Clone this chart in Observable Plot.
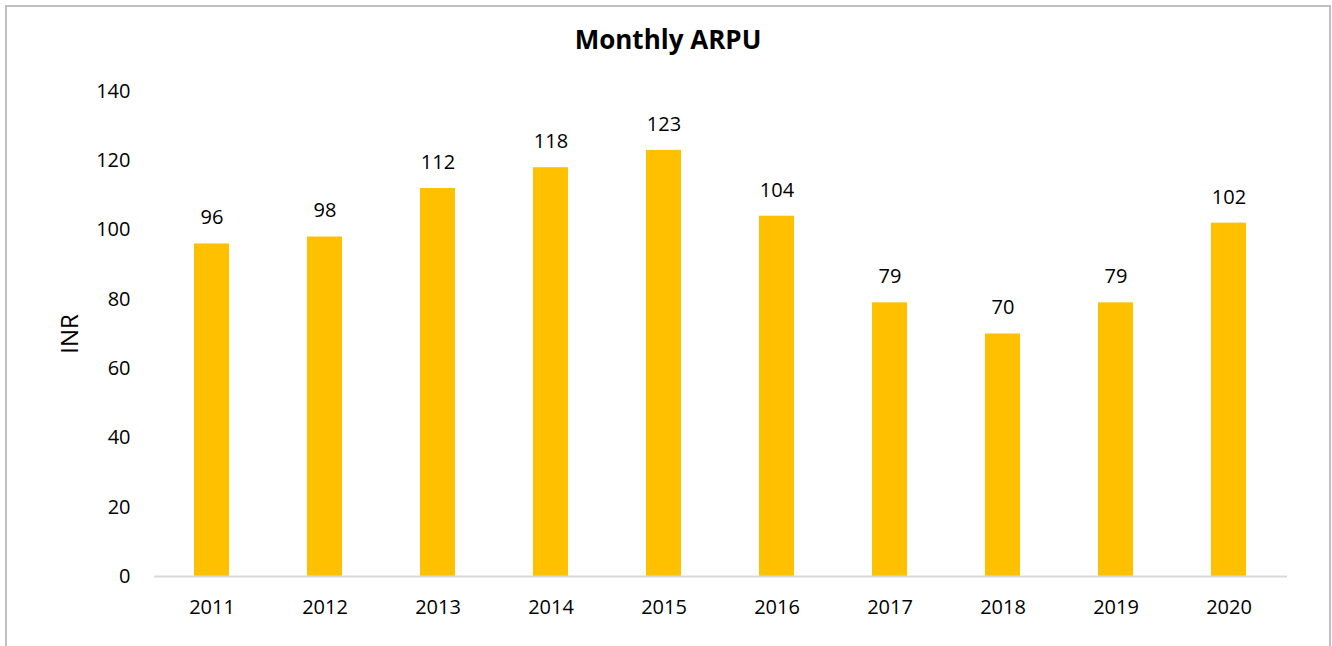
<!DOCTYPE html>
<html>
<head>
<meta charset="utf-8">
<script src="https://cdn.jsdelivr.net/npm/d3@7"></script>
<script src="https://cdn.jsdelivr.net/npm/@observablehq/plot@0.6"></script>
<style>
  html, body { margin: 0; padding: 0; background: #fff; width: 1332px; height: 646px; overflow: hidden; }
  #frame { position: absolute; left: 5px; top: 5px; width: 1326px; height: 700px; border: 2px solid #bfbfbf; box-sizing: border-box; }
  #title { position: absolute; left: 0; top: 21px; width: 1336px; text-align: center; font-family: "Open Sans", sans-serif; font-weight: bold; font-size: 26px; color: #000; }
  #chart { position: absolute; left: 0; top: 70px; }
</style>
</head>
<body>
<div id="frame"></div>
<div id="title">Monthly ARPU</div>
<div id="chart"></div>
<script>
const years = ["2011","2012","2013","2014","2015","2016","2017","2018","2019","2020"];
const arpu = [96, 98, 112, 118, 123, 104, 79, 70, 79, 102];
const yTicks = [0, 20, 40, 60, 80, 100, 120, 140];

const data = years.map((y, i) => ({year: y, value: arpu[i]}));

const chart = Plot.plot({
  width: 1332,
  height: 576,
  marginTop: 21,
  marginBottom: 70,
  marginLeft: 154,
  marginRight: 45,
  style: { fontFamily: "Open Sans, sans-serif", fontSize: "20px", color: "#000", background: "transparent" },
  x: { domain: years, paddingInner: 0.69, paddingOuter: 0.345, label: null },
  y: { domain: [0, 140], label: "INR" },
  marks: [
    Plot.axisX({ tickSize: 0, tickPadding: 23, fontSize: 20, label: null }),
    Plot.axisY({ ticks: yTicks, tickSize: 0, tickPadding: 24, fontSize: 20, label: null }),
    Plot.axisY({ ticks: [], tickSize: 0, fontSize: 24, label: "INR", labelAnchor: "center", labelOffset: 94, labelArrow: "none" }),
    Plot.barY(data, { x: "year", y: "value", fill: "#FFC000" }),
    Plot.ruleY([0], { stroke: "#d9d9d9", strokeWidth: 2 }),
    Plot.text(data, { x: "year", y: "value", text: d => String(d.value), dy: -26, fontSize: 20, fill: "#000" })
  ]
});
document.getElementById("chart").appendChild(chart);
</script>
</body>
</html>
